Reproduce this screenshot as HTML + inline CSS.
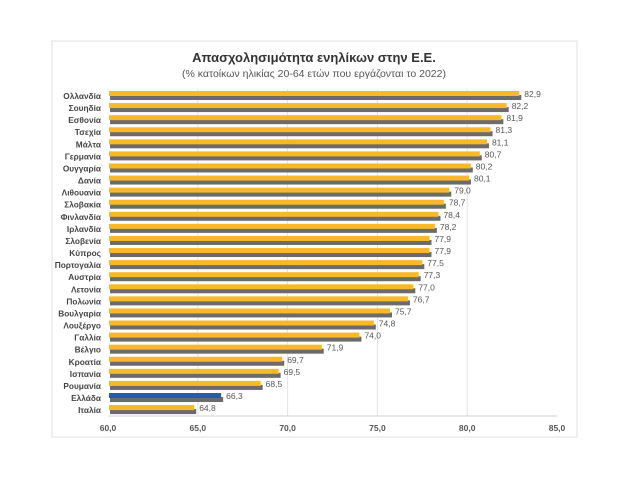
<!DOCTYPE html>
<html><head><meta charset="utf-8"><style>
body{margin:0;background:#fff;width:624px;height:479px;overflow:hidden;font-family:"Liberation Sans",sans-serif}
</style></head><body>
<svg width="624" height="479" font-family="Liberation Sans, sans-serif">
<rect x="52" y="41" width="525" height="396" fill="#fff" stroke="#e2e2e2"/>
<text x="314" y="62" text-anchor="middle" font-size="13" font-weight="bold" fill="#333">Απασχολησιμότητα ενηλίκων στην Ε.Ε.</text>
<text x="314" y="77" text-anchor="middle" font-size="10.5" fill="#555">(% κατοίκων ηλικίας 20-64 ετών που εργάζονται το 2022)</text>
<g id="grid"></g><g id="bars"></g><g id="axis"></g>
</svg>
<script>
const countries=["Ολλανδία","Σουηδία","Εσθονία","Τσεχία","Μάλτα","Γερμανία","Ουγγαρία","Δανία","Λιθουανία","Σλοβακία","Φινλανδία","Ιρλανδία","Σλοβενία","Κύπρος","Πορτογαλία","Αυστρία","Λετονία","Πολωνία","Βουλγαρία","Λουξέργο","Γαλλία","Βέλγιο","Κροατία","Ισπανία","Ρουμανία","Ελλάδα","Ιταλία"];
const values=[82.9,82.2,81.9,81.3,81.1,80.7,80.2,80.1,79.0,78.7,78.4,78.2,77.9,77.9,77.5,77.3,77.0,76.7,75.7,74.8,74.0,71.9,69.7,69.5,68.5,66.3,64.8];
const ticks=[60,65,70,75,80,85];
const NS="http://www.w3.org/2000/svg";
const x=v=>108+(v-60)*(557-108)/25;
const y=i=>96+i*12.08;
function mk(t,a,p){const e=document.createElementNS(NS,t);for(const k in a)e.setAttribute(k,a[k]);p.appendChild(e);return e;}
const G=document.getElementById('grid'),B=document.getElementById('bars'),A=document.getElementById('axis');
ticks.forEach(t=>{
 if(t>60&&t<85){const l=mk('line',{x1:x(t),x2:x(t),y1:89,y2:416,stroke:'#e4e4e4'},G);
 
 }
 const tx=mk('text',{x:x(t),y:431,'text-anchor':'middle','font-size':'8.5',fill:'#555','font-weight':'bold'},A);
 tx.textContent=t.toFixed(1).replace('.',',');
 
 
});
const ax=mk('line',{x1:108,x2:557,y1:416,y2:416,stroke:'#d0d0d0'},A);


countries.forEach((c,i)=>{
 const cy=y(i);
 const lb=mk('text',{x:101,y:cy+3,'text-anchor':'end','font-size':'8.3',fill:'#444','font-weight':'bold'},B);
 lb.textContent=c;
 
 
 const sh=mk('rect',{x:110,y:cy-1,width:x(values[i])-108,height:5,fill:'#6b6b6b'},B);
 
 
 const b=mk('rect',{x:109,y:cy-5,width:x(values[i])-109,height:5,fill:c==='Ελλάδα'?'#1f5fae':'#f7b929'},B);
 
 
 const v=mk('text',{x:x(values[i])+5,y:cy+1,'font-size':'8.5',fill:'#555'},B);
 v.textContent=values[i].toFixed(1).replace('.',',');
 
 
});
</script>
</body></html>
